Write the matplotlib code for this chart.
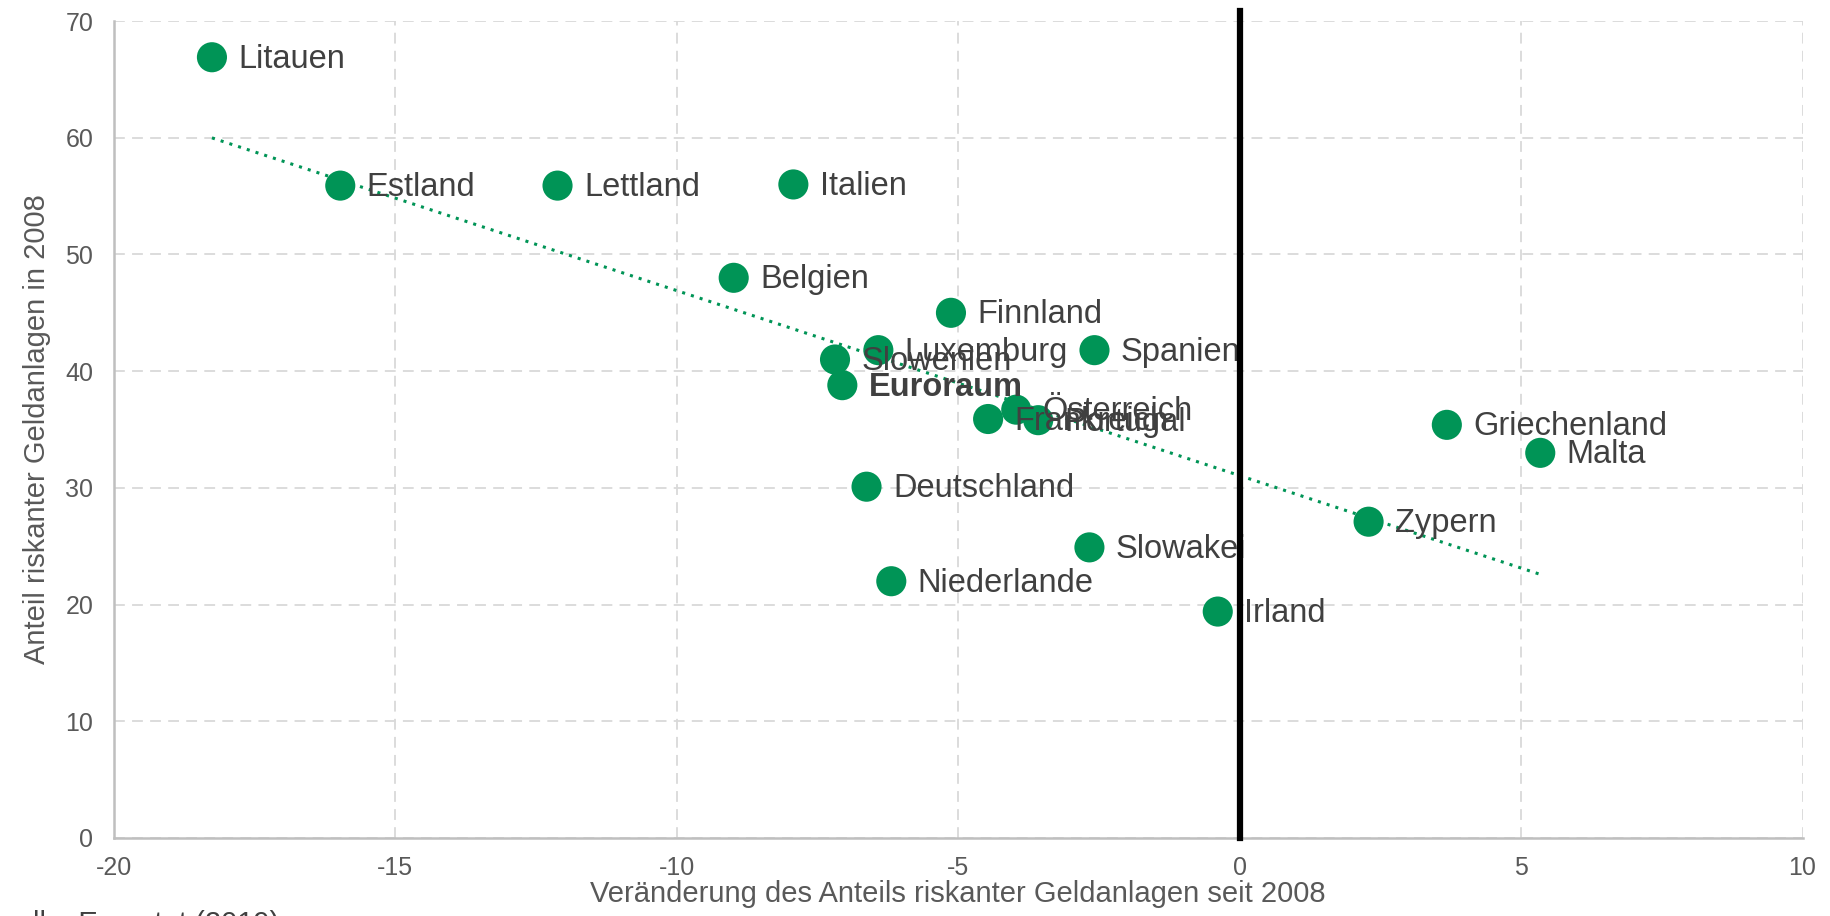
import matplotlib.pyplot as plt
import numpy as np

# === Data ===
countries = ['Litauen', 'Estland', 'Lettland', 'Italien', 'Belgien', 'Finnland',
             'Spanien', 'Luxemburg', 'Slowenien', 'Euroraum', 'Frankreich',
             'Österreich', 'Portugal', 'Deutschland', 'Slowakei', 'Niederlande',
             'Irland', 'Zypern', 'Griechenland', 'Malta']
change = [-18.26, -15.98, -12.12, -7.93, -8.99, -5.13,
          -2.58, -6.42, -7.19, -7.06, -4.47,
          -3.97, -3.58, -6.63, -2.67, -6.19,
          -0.39, 2.29, 3.68, 5.34]
share_2008 = [66.9, 55.9, 55.9, 56.0, 48.0, 45.0,
              41.8, 41.8, 41.0, 38.8, 35.9,
              36.7, 35.8, 30.1, 24.9, 22.0,
              19.4, 27.1, 35.4, 33.0]

# Excel-style linear trendline, drawn between min and max x
trend_x = [-18.26, 5.34]
trend_slope = -1.585
trend_intercept = 31.05

green = '#009456'
text_col = '#404040'
axis_col = '#595959'

plt.rcParams['font.family'] = ['Liberation Sans', 'DejaVu Sans']
plt.rcParams['axes.unicode_minus'] = False

fig = plt.figure(figsize=(18.3, 9.16), dpi=100)
ax = fig.add_axes([0.0623, 0.0852, 0.9227, 0.8918])

ax.set_xlim(-20, 10)
ax.set_ylim(0, 70)

# grid
ax.grid(True, color='#d9d9d9', linestyle=(0, (6, 4)), linewidth=1.3)
ax.set_axisbelow(True)

# trendline
tx = np.array(trend_x)
ax.plot(tx, trend_slope * tx + trend_intercept, color=green,
        linestyle=(0, (1, 2)), linewidth=2.2, zorder=2)

# points
ax.scatter(change, share_2008, s=470, color=green, edgecolor='none', zorder=4)

for name, x, y in zip(countries, change, share_2008):
    ax.annotate(name, (x, y), xytext=(19, -1.5), textcoords='offset points',
                va='center', ha='left', fontsize=23.5, color=text_col,
                fontweight='bold' if name == 'Euroraum' else 'normal', zorder=5)

# vertical zero line (drawn over the labels, as in the original)
ax.plot([0, 0], [0, 70.9], color='black', linewidth=4.5, clip_on=False, zorder=6)

# axes styling
for side in ['top', 'right']:
    ax.spines[side].set_visible(False)
ax.spines['left'].set_color('#bfbfbf')
ax.spines['bottom'].set_color('#bfbfbf')
ax.spines['left'].set_linewidth(1.8)
ax.spines['bottom'].set_linewidth(1.8)

ax.set_xticks(np.arange(-20, 11, 5))
ax.set_yticks(np.arange(0, 71, 10))
ax.tick_params(axis='y', length=0, labelsize=18, labelcolor=axis_col, pad=15)
ax.tick_params(axis='x', length=0, labelsize=18, labelcolor=axis_col, pad=13)

ax.set_xlabel('Veränderung des Anteils riskanter Geldanlagen seit 2008',
              fontsize=21, color=axis_col, labelpad=0)
ax.set_ylabel('Anteil riskanter Geldanlagen in 2008',
              fontsize=21, color=axis_col, labelpad=10)

fig.text(-0.012, 0.007, 'Quelle: Eurostat (2019)', fontsize=21,
         color=text_col, va='top', ha='left')

plt.savefig('out.png', dpi=100)
